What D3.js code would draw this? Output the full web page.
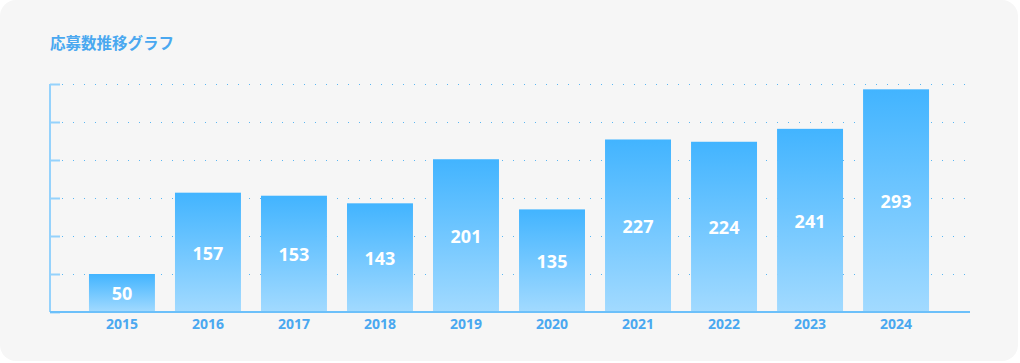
<!DOCTYPE html>
<html><head><meta charset="utf-8">
<script src="https://cdn.jsdelivr.net/npm/d3@7"></script>
<style>
html,body{margin:0;padding:0;background:#fff;}
svg{display:block;font-family:"Noto Sans CJK JP","Noto Sans",sans-serif;}
</style></head>
<body>
<svg id="c" width="1020" height="363"></svg>
<script>
const title = "応募数推移グラフ";
const years = ["2015","2016","2017","2018","2019","2020","2021","2022","2023","2024"];
const applicants = [50,157,153,143,201,135,227,224,241,293];
const yTicks = [0,50,100,150,200,250,300];

const svg = d3.select("#c");
svg.append("rect").attr("x",0).attr("y",0).attr("width",1018).attr("height",361)
  .attr("rx",16).attr("fill","#f6f6f6");

const defs = svg.append("defs");
const g = defs.append("linearGradient").attr("id","bg").attr("x1",0).attr("y1",0).attr("x2",0).attr("y2",1);
g.append("stop").attr("offset","0%").attr("stop-color","#42b4ff");
g.append("stop").attr("offset","100%").attr("stop-color","#a2daff");

const x = d3.scaleBand().domain(years).range([50,968]).paddingInner(0.233).paddingOuter(0.453);
const y = d3.scaleLinear().domain([0,300]).range([312,84]);

svg.append("text").attr("x",50).attr("y",49).attr("fill","#4aa8f0")
  .attr("font-size",15.5).attr("font-weight",700).text(title);

// grid
svg.append("g").selectAll("line").data(yTicks.slice(1)).join("line")
  .attr("x1",62).attr("x2",966).attr("y1",d=>y(d)+0.5).attr("y2",d=>y(d)+0.5)
  .attr("stroke","#5ab6f2").attr("stroke-width",1).attr("stroke-dasharray","1 10");

// left axis
const ya = svg.append("g").attr("transform","translate(50,0)")
  .call(d3.axisRight(y).tickValues(yTicks).tickSize(10).tickFormat(""));
ya.select(".domain").attr("stroke","#95d2fc").attr("stroke-width",2).attr("d","M0,84V312");
ya.selectAll(".tick line").attr("stroke","#95d2fc").attr("stroke-width",2);

// bars
svg.append("g").selectAll("rect").data(applicants).join("rect")
  .attr("x",(d,i)=>x(years[i])).attr("width",x.bandwidth())
  .attr("y",d=>y(d)).attr("height",d=>y(0)-y(d))
  .attr("fill","url(#bg)");

svg.append("g").selectAll("text").data(applicants).join("text")
  .attr("x",(d,i)=>x(years[i])+x.bandwidth()/2)
  .attr("y",d=>(y(d)+y(0))/2+1).attr("dy","0.36em")
  .attr("text-anchor","middle").attr("fill","#fff")
  .attr("font-size",18).attr("font-weight",700)
  .attr("font-family","'Noto Sans','Open Sans',sans-serif").text(d=>d);

// bottom axis
const xa = svg.append("g").attr("transform","translate(0,312)")
  .call(d3.axisBottom(x).tickSize(0).tickPadding(7));
xa.select(".domain").attr("stroke","#6cc0fa").attr("stroke-width",2).attr("d","M50,0H970");
xa.selectAll(".tick text").attr("fill","#4aa8f0").attr("font-size",14).attr("font-weight",700)
  .attr("font-family","'Noto Sans','Open Sans',sans-serif");
</script>
</body></html>
